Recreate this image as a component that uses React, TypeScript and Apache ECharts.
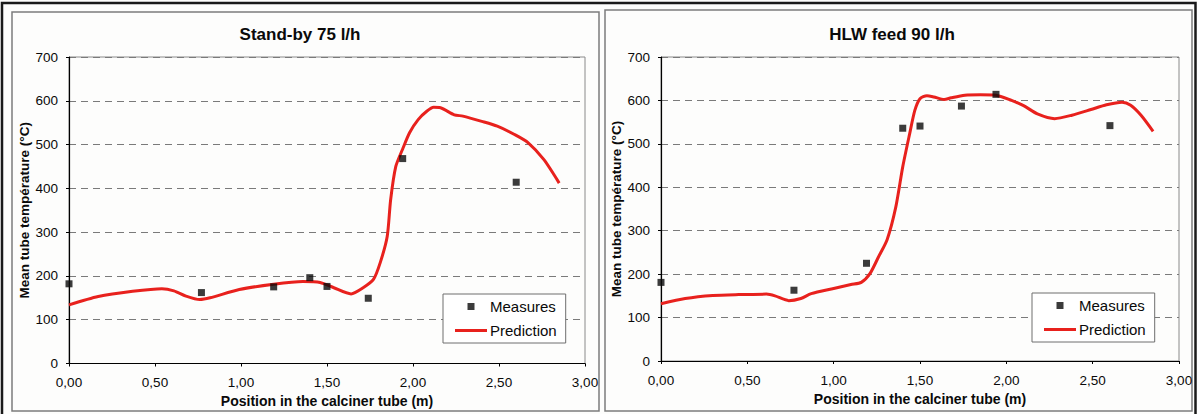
import React, { useEffect, useRef } from "react";
import * as echarts from "echarts";

// Measured and predicted mean tube temperature along the calciner tube
const positionTicks = [0, 0.5, 1, 1.5, 2, 2.5, 3];
const temperatureTicks = [0, 100, 200, 300, 400, 500, 600, 700];

// Stand-by 75 l/h
const standbyMeasureX = [0, 0.77, 1.19, 1.4, 1.5, 1.74, 1.94, 2.6];
const standbyMeasureY = [182, 162, 175, 196, 176, 149, 468, 414];
const standbyPredX = [
  0, 0.17, 0.37, 0.54, 0.61, 0.68, 0.76, 0.82, 0.99, 1.19, 1.36, 1.46, 1.54,
  1.64, 1.71, 1.77, 1.81, 1.85, 1.87, 1.9, 1.94, 1.98, 2.03, 2.08, 2.12, 2.16,
  2.24, 2.29, 2.4, 2.49, 2.59, 2.67, 2.76, 2.85,
];
const standbyPredY = [
  134, 153, 165, 171, 166, 154, 146, 150, 169, 181, 187, 185, 173, 159, 173,
  192, 231, 290, 374, 450, 490, 527, 557, 576, 585, 584, 568, 565, 553, 542,
  523, 504, 466, 412,
];

// HLW feed 90 l/h
const feedMeasureX = [0, 0.77, 1.19, 1.4, 1.5, 1.74, 1.94, 2.6];
const feedMeasureY = [181, 163, 225, 536, 541, 587, 614, 542];
const feedPredX = [
  0, 0.14, 0.3, 0.45, 0.61, 0.66, 0.74, 0.81, 0.87, 1.0, 1.1, 1.16, 1.21, 1.26,
  1.31, 1.36, 1.4, 1.44, 1.47, 1.5, 1.54, 1.58, 1.64, 1.68, 1.76, 1.85, 1.94,
  2.03, 2.1, 2.18, 2.28, 2.38, 2.49, 2.58, 2.67, 2.72, 2.78, 2.85,
];
const feedPredY = [
  132, 144, 151, 153, 154, 150, 139, 144, 155, 167, 176, 181, 201, 240, 280,
  355, 447, 523, 577, 604, 611, 608, 602, 606, 612, 613, 612, 600, 588, 569,
  558, 566, 579, 590, 596, 589, 566, 529,
];

const panelTitles = ["Stand-by 75 l/h", "HLW feed 90 l/h"];
const xAxisName = "Position in the calciner tube (m)";
const yAxisName = "Mean tube température (°C)";

const FONT = "'Liberation Sans', Arial, Helvetica, sans-serif";
const RED = "#e8211d";
const INK = "#0a0a0a";

const zip = (xs: number[], ys: number[]) => xs.map((x, i) => [x, ys[i]]);
const fmtPos = (v: number) => v.toFixed(2).replace(".", ",");

const grids = [
  { left: 69, top: 57, width: 516, height: 306.5 },
  { left: 661, top: 57, width: 518, height: 304 },
];

function makeXAxis(gridIndex: number) {
  return {
    type: "value",
    gridIndex,
    min: positionTicks[0],
    max: positionTicks[positionTicks.length - 1],
    interval: positionTicks[1] - positionTicks[0],
    name: xAxisName,
    nameLocation: "middle",
    nameGap: 26,
    nameTextStyle: { fontFamily: FONT, fontSize: 14, fontWeight: "bold", color: INK },
    axisLine: { show: true, onZero: false, lineStyle: { color: "#000", width: 1.2 } },
    axisTick: { show: true, length: 3, lineStyle: { color: "#000" } },
    axisLabel: {
      margin: 12,
      fontFamily: FONT,
      fontSize: 13.5,
      color: INK,
      formatter: (v: number) => fmtPos(v),
    },
    splitLine: { show: false },
  };
}

function makeYAxis(gridIndex: number) {
  return {
    type: "value",
    gridIndex,
    min: temperatureTicks[0],
    max: temperatureTicks[temperatureTicks.length - 1],
    interval: temperatureTicks[1] - temperatureTicks[0],
    name: yAxisName,
    nameLocation: "middle",
    nameGap: 38,
    nameTextStyle: { fontFamily: FONT, fontSize: 13.5, fontWeight: "bold", color: INK },
    axisLine: { show: true, onZero: false, lineStyle: { color: "#000", width: 1.2 } },
    axisTick: { show: true, length: 3, lineStyle: { color: "#000" } },
    axisLabel: { margin: 11, fontFamily: FONT, fontSize: 13.5, color: INK },
    splitLine: {
      show: true,
      lineStyle: { color: "#7a7a7a", width: 1, type: [7, 5] },
    },
  };
}

// legend glyphs drawn inside a 32x14 box: a small square and a thick line
const squareIcon = "path://M0,0M32,14M12.5,3.5h7v7h-7z";
const lineIcon = "path://M0,0M32,14M0,5.5h32v3h-32z";

function makeLegend(left: number, top: number) {
  return {
    orient: "vertical",
    left,
    top,
    padding: [5, 9, 5, 12],
    itemWidth: 32,
    itemHeight: 14,
    itemGap: 9,
    backgroundColor: "#ffffff",
    borderColor: "#6e6e6e",
    borderWidth: 1,
    selectedMode: false,
    textStyle: { fontFamily: FONT, fontSize: 15, color: INK, padding: [0, 0, 0, -2] },
    data: [
      { name: "Measures", icon: squareIcon },
      { name: "Prediction", icon: lineIcon },
    ],
  };
}

function buildOption() {
  return {
    animation: false,
    backgroundColor: "#fdfdfc",
    title: panelTitles.map((t, i) => ({
      text: t,
      left: i === 0 ? 300 : 892,
      top: 26,
      textAlign: "center",
      padding: 0,
      textStyle: { fontFamily: FONT, fontSize: 17, fontWeight: "bold", color: INK },
    })),
    grid: grids.map((g) => ({
      ...g,
      show: true,
      backgroundColor: "transparent",
      borderColor: "#8a8a8a",
      borderWidth: 1,
      containLabel: false,
    })),
    xAxis: [makeXAxis(0), makeXAxis(1)],
    yAxis: [makeYAxis(0), makeYAxis(1)],
    legend: [makeLegend(443, 294), makeLegend(1032, 293)],
    graphic: [
      // outer frame
      {
        type: "polyline",
        z: -10,
        silent: true,
        shape: { points: [[2, 420], [2, 3], [1195.5, 3], [1195.5, 420]] },
        style: { stroke: "#1a1a1a", lineWidth: 2.5, fill: "none" },
      },
      // panel frames
      {
        type: "rect",
        z: -10,
        silent: true,
        shape: { x: 12, y: 12, width: 587, height: 399 },
        style: { stroke: "#7c7c7c", lineWidth: 1.5, fill: "none" },
      },
      {
        type: "rect",
        z: -10,
        silent: true,
        shape: { x: 605, y: 10, width: 587, height: 401 },
        style: { stroke: "#7c7c7c", lineWidth: 1.5, fill: "none" },
      },
    ],
    series: [
      {
        name: "Prediction",
        type: "line",
        xAxisIndex: 0,
        yAxisIndex: 0,
        data: zip(standbyPredX, standbyPredY),
        smooth: 0.25,
        showSymbol: false,
        symbol: "none",
        lineStyle: { color: RED, width: 3 },
        itemStyle: { color: RED },
        z: 3,
      },
      {
        name: "Measures",
        type: "scatter",
        xAxisIndex: 0,
        yAxisIndex: 0,
        data: zip(standbyMeasureX, standbyMeasureY),
        symbol: "rect",
        symbolSize: 7,
        itemStyle: { color: INK },
        z: 4,
      },
      {
        name: "Prediction",
        type: "line",
        xAxisIndex: 1,
        yAxisIndex: 1,
        data: zip(feedPredX, feedPredY),
        smooth: 0.25,
        showSymbol: false,
        symbol: "none",
        lineStyle: { color: RED, width: 3 },
        itemStyle: { color: RED },
        z: 3,
      },
      {
        name: "Measures",
        type: "scatter",
        xAxisIndex: 1,
        yAxisIndex: 1,
        data: zip(feedMeasureX, feedMeasureY),
        symbol: "rect",
        symbolSize: 7,
        itemStyle: { color: INK },
        z: 4,
      },
    ],
  };
}

export default function App() {
  const ref = useRef<HTMLDivElement>(null);

  useEffect(() => {
    document.body.style.margin = "0";
    if (!ref.current) return;
    const chart = echarts.init(ref.current, undefined, { renderer: "svg" });
    chart.setOption(buildOption() as any);
    return () => chart.dispose();
  }, []);

  return (
    <div
      ref={ref}
      style={{ position: "fixed", left: 0, top: 0, width: 1197, height: 414 }}
    />
  );
}
